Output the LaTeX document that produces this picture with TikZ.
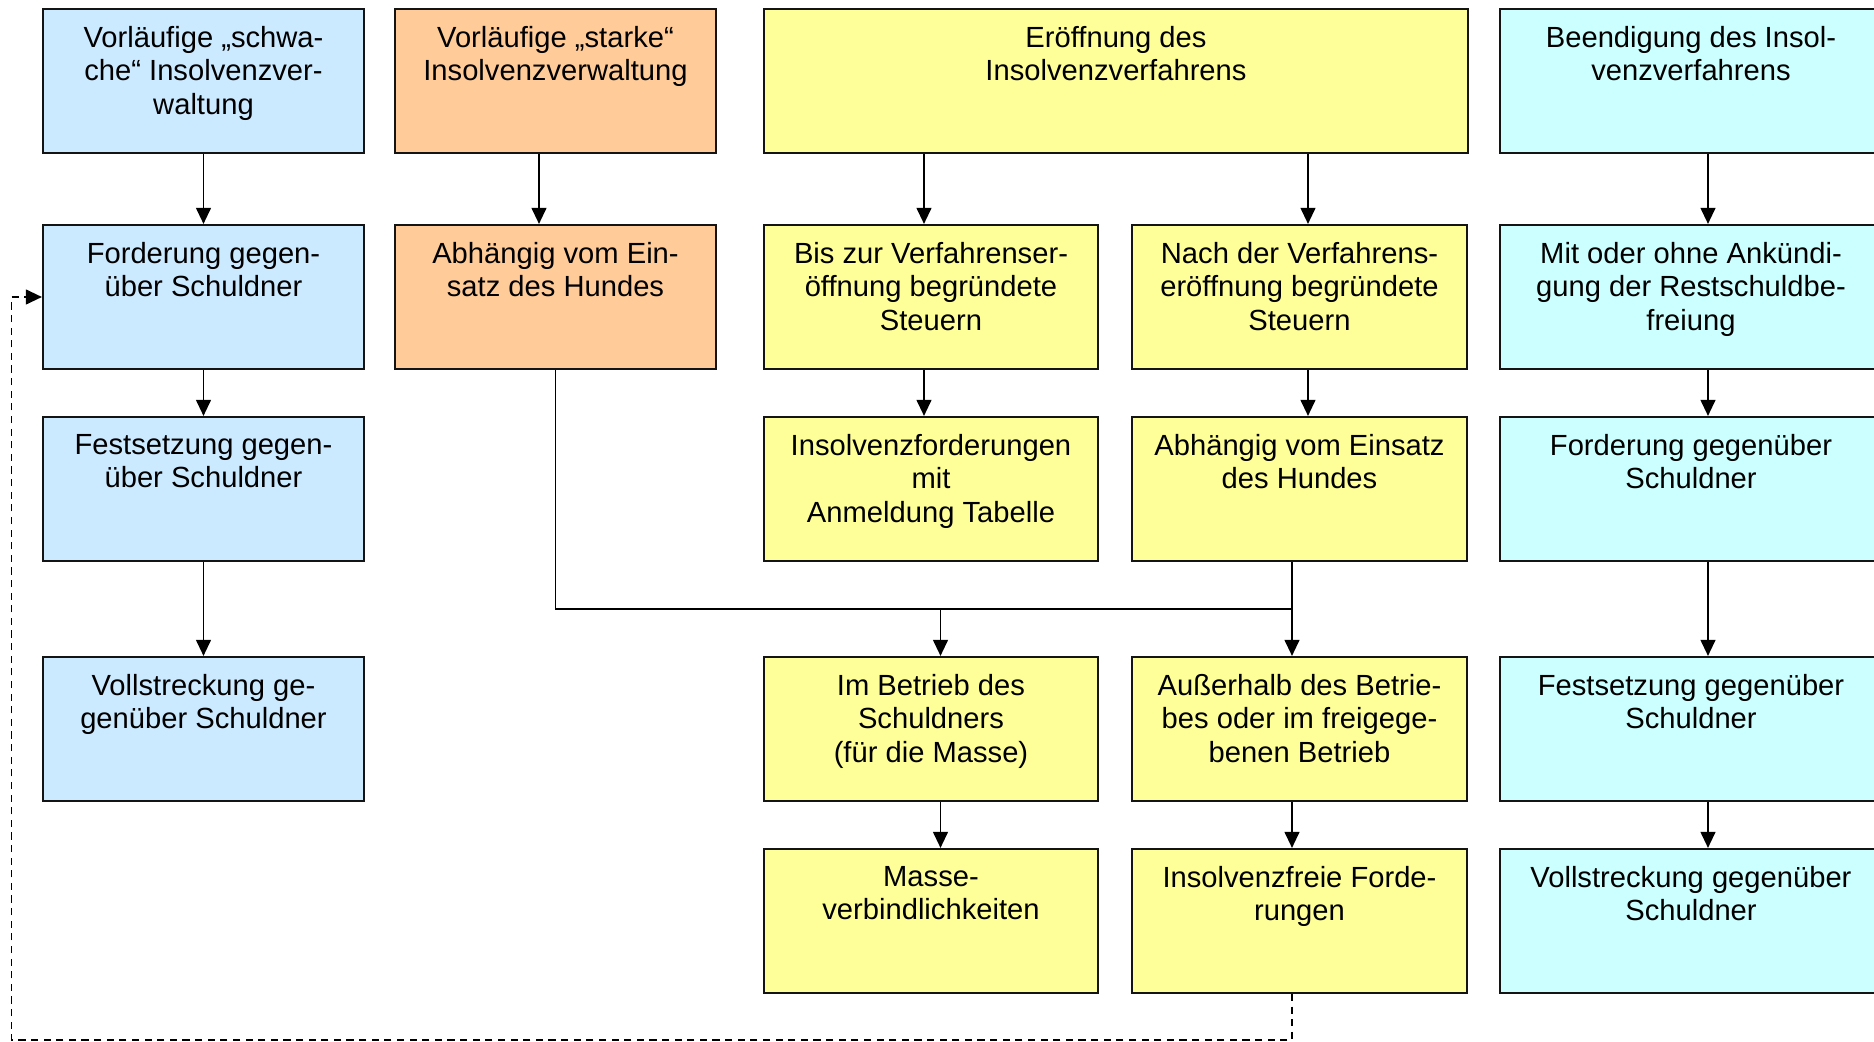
\documentclass[tikz,border=0pt]{standalone}
\usepackage{fontspec}
\setmainfont{Liberation Sans}
\usetikzlibrary{arrows.meta}
\definecolor{boxblue}{RGB}{204,234,255}
\definecolor{boxorange}{RGB}{255,204,153}
\definecolor{boxyellow}{RGB}{255,255,153}
\definecolor{boxcyan}{RGB}{204,255,255}
\newcommand\boxlabel[2]{\node[txt] (#1t) at ([yshift=-7.4pt]#1.north) {#2};}
\begin{document}
\begin{tikzpicture}[x=0.42pt,y=-0.42pt,
  box/.style={draw=black!92, line width=0.9pt, rectangle, minimum height=60.48pt, inner sep=0pt},
  narrowbox/.style={box, minimum width=134.82pt},
  midbox/.style={box, minimum width=140.49pt},
  widebox/.style={box, minimum width=160.44pt},
  txt/.style={anchor=north, align=center, inner sep=0pt,
    font=\fontsize{12.25pt}{14.07pt}\selectfont,
    execute at begin node={\rule{0pt}{10pt}}},
  conn/.style={line width=0.72pt, draw=black},
  arr/.style={conn, -{Triangle[length=6.7pt,width=6.2pt]}},
  back/.style={arr, dash pattern=on 3pt off 2.3pt},
]
\useasboundingbox (0,0) rectangle (1874,1042);
\clip (0,0) rectangle (1874,1042);
\fill[white] (0,0) rectangle (1874,1042);

% row 1
\node[narrowbox, fill=boxblue]   (a1) at (203.5,81) {};
\node[narrowbox, fill=boxorange] (b1) at (555.5,81) {};
\node[box, minimum width=295.68pt, fill=boxyellow] (c1) at (1116,81) {};
\node[widebox, fill=boxcyan]     (d1) at (1691,81) {};
% row 2
\node[narrowbox, fill=boxblue]   (a2) at (203.5,297) {};
\node[narrowbox, fill=boxorange] (b2) at (555.5,297) {};
\node[midbox, fill=boxyellow]    (c2) at (931,297) {};
\node[midbox, fill=boxyellow]    (e2) at (1299.5,297) {};
\node[widebox, fill=boxcyan]     (d2) at (1691,297) {};
% row 3
\node[narrowbox, fill=boxblue]   (a3) at (203.5,489) {};
\node[midbox, fill=boxyellow]    (c3) at (931,489) {};
\node[midbox, fill=boxyellow]    (e3) at (1299.5,489) {};
\node[widebox, fill=boxcyan]     (d3) at (1691,489) {};
% row 4
\node[narrowbox, fill=boxblue]   (a4) at (203.5,729) {};
\node[midbox, fill=boxyellow]    (c4) at (931,729) {};
\node[midbox, fill=boxyellow]    (e4) at (1299.5,729) {};
\node[widebox, fill=boxcyan]     (d4) at (1691,729) {};
% row 5
\node[midbox, fill=boxyellow]    (c5) at (931,921) {};
\node[midbox, fill=boxyellow]    (e5) at (1299.5,921) {};
\node[widebox, fill=boxcyan]     (d5) at (1691,921) {};

% box texts
\boxlabel{a1}{Vorläufige „schwa-\\che“ Insolvenzver-\\waltung}
\boxlabel{b1}{Vorläufige „starke“\\Insolvenzverwaltung}
\boxlabel{c1}{Eröffnung des\\Insolvenzverfahrens}
\boxlabel{d1}{Beendigung des Insol-\\venzverfahrens}
\boxlabel{a2}{Forderung gegen-\\über Schuldner}
\boxlabel{b2}{Abhängig vom Ein-\\satz des Hundes}
\boxlabel{c2}{Bis zur Verfahrenser-\\öffnung begründete\\Steuern}
\boxlabel{e2}{Nach der Verfahrens-\\eröffnung begründete\\Steuern}
\boxlabel{d2}{Mit oder ohne Ankündi-\\gung der Restschuldbe-\\freiung}
\boxlabel{a3}{Festsetzung gegen-\\über Schuldner}
\boxlabel{c3}{Insolvenzforderungen\\mit\\Anmeldung Tabelle}
\boxlabel{e3}{Abhängig vom Einsatz\\des Hundes}
\boxlabel{d3}{Forderung gegenüber\\Schuldner}
\boxlabel{a4}{Vollstreckung ge-\\genüber Schuldner}
\boxlabel{c4}{Im Betrieb des\\Schuldners\\(für die Masse)}
\boxlabel{e4}{Außerhalb des Betrie-\\bes oder im freigege-\\benen Betrieb}
\boxlabel{d4}{Festsetzung gegenüber\\Schuldner}
\boxlabel{c5}{Masse-\\verbindlichkeiten}
\boxlabel{e5}{Insolvenzfreie Forde-\\rungen}
\boxlabel{d5}{Vollstreckung gegenüber\\Schuldner}

% connector tracks
\coordinate (tB) at ([xshift=-6.93pt]b2.north);
\coordinate (tC) at ([xshift=-2.94pt]c2.north);
\coordinate (tE) at ([xshift=3.57pt]e2.north);
\coordinate (tD) at ([xshift=7.14pt]d2.north);
\coordinate (tM) at ([xshift=3.99pt]c4.north);
\coordinate (tF) at ([xshift=-3.15pt]e3.south);
\coordinate (bar) at (0,609);
\coordinate (loopcorner) at (11.5,1040);

% left column
\draw[arr] (a1) -- (a2);
\draw[arr] (a2) -- (a3);
\draw[arr] (a3) -- (a4);
% second column
\draw[arr] (tB |- b1.south) -- (tB);
% opening of the proceedings
\draw[arr] (tC |- c1.south) -- (tC);
\draw[arr] (tE |- c1.south) -- (tE);
\draw[arr] (tC |- c2.south) -- (tC |- c3.north);
\draw[arr] (tE |- e2.south) -- (tE |- e3.north);
\draw[conn] (b2.south) |- (bar -| tF);
\draw[arr] (tF) -- (tF |- e4.north);
\draw[arr] (bar -| tM) -- (tM);
\draw[arr] (tM |- c4.south) -- (tM |- c5.north);
\draw[arr] (tF |- e4.south) -- (tF |- e5.north);
% end of the proceedings
\draw[arr] (tD |- d1.south) -- (tD);
\draw[arr] (tD |- d2.south) -- (tD |- d3.north);
\draw[arr] (tD |- d3.south) -- (tD |- d4.north);
\draw[arr] (tD |- d4.south) -- (tD |- d5.north);
% feedback of insolvency-free claims
\draw[back] (tF |- e5.south) |- (loopcorner) |- (a2.west);
\end{tikzpicture}
\end{document}
